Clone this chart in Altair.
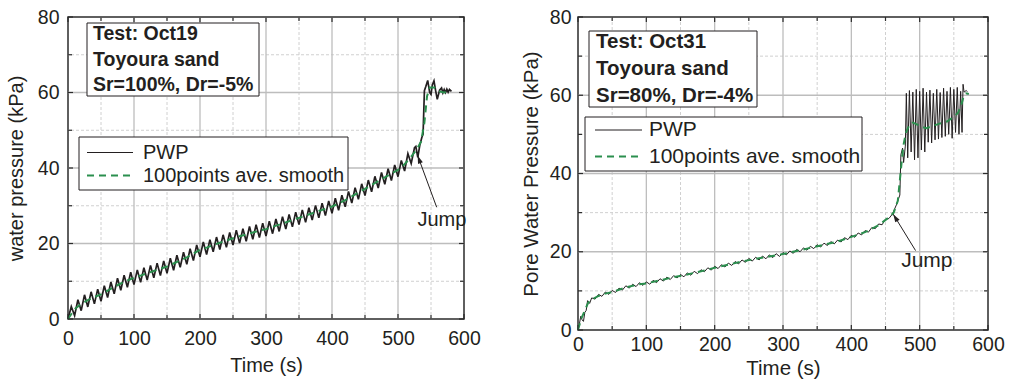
import altair as alt
import pandas as pd

INK = "#231f20"
FRAME = "#2b2b2b"
GREEN = "#2b8f4e"
FONT = "Liberation Sans"
SERIES = ["PWP", "100points ave. smooth"]

# ---------------- Test Oct19 : Sr=100%, Dr=-5% ----------------
oct19_pwp_t = [0, 5, 10, 15, 20, 25, 30, 35, 40, 45, 50, 55, 60, 65, 70, 75, 80, 85, 90, 95,
               100, 105, 110, 115, 120, 125, 130, 135, 140, 145, 150, 155, 160, 165, 170, 175,
               180, 185, 190, 195, 200, 205, 210, 215, 220, 225, 230, 235, 240, 245, 250, 255,
               260, 265, 270, 275, 280, 285, 290, 295, 300, 305, 310, 315, 320, 325, 330, 335,
               340, 345, 350, 355, 360, 365, 370, 375, 380, 385, 390, 395, 400, 405, 410, 415,
               420, 425, 430, 435, 440, 445, 450, 455, 460, 465, 470, 475, 480, 485, 490, 495,
               500, 505, 510, 515, 520, 525, 527, 530, 533, 536, 538, 540, 542, 545, 548, 550,
               552, 554.5, 557, 559.5, 563, 566, 568, 570, 572, 574, 576, 578, 581]
oct19_pwp_p = [0.0, 3.3, 0.9, 5.1, 2.2, 6.4, 3.2, 7.2, 4.0, 7.9, 4.7, 8.8, 5.7, 9.8, 6.7, 10.8,
               7.6, 11.6, 8.4, 12.4, 9.1, 13.0, 9.7, 13.6, 10.3, 14.2, 10.9, 14.8, 11.5, 15.4,
               12.1, 16.1, 12.9, 16.9, 13.7, 17.7, 14.5, 18.6, 15.5, 19.6, 16.5, 20.4, 17.1,
               21.0, 17.8, 21.7, 18.4, 22.3, 19.0, 22.9, 19.6, 23.5, 20.1, 23.9, 20.6, 24.5,
               21.1, 25.0, 21.6, 25.4, 22.0, 25.9, 22.6, 26.5, 23.2, 27.1, 23.8, 27.7, 24.4,
               28.3, 25.0, 28.9, 25.6, 29.5, 26.2, 30.1, 26.8, 30.7, 27.4, 31.3, 28.0, 32.0,
               28.8, 32.8, 29.7, 33.8, 30.7, 34.8, 31.7, 35.8, 32.7, 36.8, 33.7, 37.8, 34.7,
               38.8, 35.7, 39.8, 36.7, 40.8, 37.7, 42.0, 39.2, 43.8, 41.2, 45.4, 45.7, 42.8,
               46.0, 48.0, 49.0, 60.5, 61.5, 63.2, 60.0, 59.5, 62.0, 63.1, 60.5, 58.2, 60.6,
               61.2, 59.9, 60.8, 60.0, 60.9, 60.1, 60.8, 60.3]
oct19_smooth_t = [0, 10, 20, 30, 40, 50, 60, 70, 80, 90, 100, 110, 120, 130, 140, 150, 160,
                  170, 180, 190, 200, 210, 220, 230, 240, 250, 260, 270, 280, 290, 300, 310,
                  320, 330, 340, 350, 360, 370, 380, 390, 400, 410, 420, 430, 440, 450, 460,
                  470, 480, 490, 500, 510, 520, 528, 535, 540, 544, 548, 555, 562, 570, 580]
oct19_smooth_p = [0.0, 2.6, 4.0, 5.0, 5.8, 6.5, 7.5, 8.5, 9.4, 10.2, 10.9, 11.5, 12.1, 12.7,
                  13.3, 13.9, 14.7, 15.5, 16.3, 17.3, 18.3, 18.9, 19.6, 20.2, 20.8, 21.4, 21.9,
                  22.4, 22.9, 23.4, 23.8, 24.4, 25.0, 25.6, 26.2, 26.8, 27.4, 28.0, 28.6, 29.2,
                  29.8, 30.6, 31.5, 32.5, 33.5, 34.5, 35.5, 36.5, 37.5, 38.5, 39.5, 41.0, 43.0,
                  44.8, 47.0, 52.0, 59.0, 61.3, 61.3, 60.3, 60.0, 60.2]

# ---------------- Test Oct31 : Sr=80%, Dr=-4% ----------------
oct31_pwp_t = [0, 2, 4, 6, 8, 10, 12, 14, 17, 20, 25, 30, 35, 40, 45, 50, 55, 60, 65, 70, 75,
               80, 85, 90, 95, 100, 105, 110, 115, 120, 125, 130, 135, 140, 145, 150, 155, 160,
               165, 170, 175, 180, 185, 190, 195, 200, 205, 210, 215, 220, 225, 230, 235, 240,
               245, 250, 255, 260, 265, 270, 275, 280, 285, 290, 295, 300, 305, 310, 315, 320,
               325, 330, 335, 340, 345, 350, 355, 360, 365, 370, 375, 380, 385, 390, 395, 400,
               405, 410, 415, 420, 425, 430, 435, 440, 445, 450, 455, 460, 463, 466, 469, 471,
               472.5, 475, 476.5, 479, 480.5, 482.5, 485, 487.5, 490, 492.5, 495, 497.5, 500,
               502.5, 505, 507.5, 510, 512.5, 515, 517.5, 520, 522.5, 525, 527.5, 530, 532.5,
               535, 537.5, 540, 542.5, 545, 547.5, 550, 552.5, 555, 557.5, 560, 562, 563.5, 565,
               568, 570]
oct31_pwp_p = [0.0, 1.5, 3.5, 2.6, 2.2, 4.5, 5.0, 7.5, 6.8, 8.2, 7.9, 9.1, 8.6, 9.7, 9.1, 10.1,
               9.6, 10.7, 10.2, 11.3, 10.7, 11.7, 11.1, 12.1, 11.4, 12.3, 11.7, 12.7, 12.1,
               13.1, 12.5, 13.5, 12.9, 13.9, 13.3, 14.2, 13.6, 14.6, 14.0, 15.0, 14.4, 15.4,
               14.9, 15.9, 15.3, 16.3, 15.7, 16.7, 16.1, 17.1, 16.5, 17.5, 16.9, 17.9, 17.3,
               18.3, 17.6, 18.6, 17.9, 18.9, 18.2, 19.2, 18.5, 19.5, 18.8, 19.8, 19.2, 20.2,
               19.6, 20.6, 20.0, 21.0, 20.4, 21.4, 20.8, 21.8, 21.2, 22.2, 21.6, 22.6, 22.0,
               23.0, 22.5, 23.6, 23.1, 24.2, 23.7, 24.8, 24.3, 25.4, 25.0, 26.2, 25.9, 27.1,
               26.9, 28.3, 28.5, 29.6, 30.8, 32.0, 33.5, 34.5, 44.8, 46.5, 42.8, 47.0, 60.5,
               44.0, 61.2, 45.5, 60.8, 43.5, 61.5, 44.0, 61.0, 46.0, 61.8, 45.5, 60.8, 48.0,
               61.3, 47.8, 60.5, 48.6, 61.5, 48.8, 60.7, 49.2, 61.8, 49.5, 61.0, 50.0, 62.0,
               49.0, 61.5, 50.5, 62.0, 50.0, 61.0, 50.5, 62.8, 60.8, 61.2, 60.9]
oct31_smooth_t = [0, 5, 10, 15, 20, 30, 40, 50, 60, 70, 80, 90, 100, 120, 140, 160, 180, 200,
                  220, 240, 260, 280, 300, 320, 340, 360, 380, 400, 420, 440, 455, 462, 468,
                  472, 476, 480, 485, 490, 495, 500, 505, 510, 520, 530, 540, 550, 556, 560,
                  564, 568, 572]
oct31_smooth_p = [0.0, 3.0, 5.0, 7.0, 7.8, 8.7, 9.3, 9.7, 10.3, 10.9, 11.3, 11.7, 11.9, 12.7,
                  13.5, 14.2, 15.0, 15.9, 16.7, 17.5, 18.2, 18.8, 19.4, 20.2, 21.0, 21.8, 22.6,
                  23.8, 25.0, 26.8, 28.8, 30.0, 33.0, 40.0, 47.0, 50.5, 52.4, 53.0, 52.6, 52.2,
                  51.8, 51.6, 52.2, 52.8, 53.3, 54.5, 55.5, 57.0, 59.5, 60.5, 60.3]

# axis tick values
x_major = [0, 100, 200, 300, 400, 500, 600]
x_minor = [50, 150, 250, 350, 450, 550]
y_major = [0, 20, 40, 60, 80]
y_minor = [10, 30, 50, 70]

ONE = pd.DataFrame({"k": [0]})


def build_panel(pwp_t, pwp_p, sm_t, sm_p, cfg):
    w, h = cfg["width"], cfg["height"]
    xs = alt.Scale(domain=[0, 600], nice=False, zero=False)
    ys = alt.Scale(domain=[0, 80], nice=False, zero=False)
    x_axis = alt.Axis(values=x_major, grid=False, ticks=False, domain=False,
                      labelFont=FONT, labelFontSize=cfg["label_size"], labelColor=INK,
                      labelPadding=cfg["x_label_pad"], titleFont=FONT,
                      titleFontSize=cfg["title_size"], titleFontWeight="normal",
                      titleColor=INK, titlePadding=cfg["x_title_pad"], labelFlush=False)
    y_axis = alt.Axis(values=y_major, grid=False, ticks=False, domain=False,
                      labelFont=FONT, labelFontSize=cfg["label_size"], labelColor=INK,
                      labelPadding=cfg["y_label_pad"], titleFont=FONT,
                      titleFontSize=cfg["title_size"], titleFontWeight="normal",
                      titleColor=INK, titlePadding=cfg["y_title_pad"], labelFlush=False)
    X = alt.X("t:Q", scale=xs, axis=x_axis, title="Time (s)")
    Y = alt.Y("p:Q", scale=ys, axis=y_axis, title=cfg["y_title"])

    xg_major = pd.DataFrame({"t": x_major[1:-1]})
    xg_minor = pd.DataFrame({"t": x_minor})
    yg_major = pd.DataFrame({"p": y_major[1:-1]})
    yg_minor = pd.DataFrame({"p": y_minor})
    xt_major = pd.DataFrame({"t": x_major})
    yt_major = pd.DataFrame({"p": y_major})

    grid_minor = (
        alt.Chart(xg_minor).mark_rule(color="#d0d0d0", strokeWidth=1, strokeDash=[3, 2]).encode(x=X)
        + alt.Chart(yg_minor).mark_rule(color="#d0d0d0", strokeWidth=1, strokeDash=[3, 2]).encode(y=Y)
    )
    grid_major = (
        alt.Chart(xg_major).mark_rule(color="#bdbdbd", strokeWidth=1.3).encode(x=X)
        + alt.Chart(yg_major).mark_rule(color="#bdbdbd", strokeWidth=1.3).encode(y=Y)
    )

    # inward ticks on all four sides
    def xticks(df, length):
        return (alt.Chart(df).mark_rule(color=FRAME, strokeWidth=1.2)
                .encode(x=X, y=alt.value(h), y2=alt.value(h - length))
                + alt.Chart(df).mark_rule(color=FRAME, strokeWidth=1.2)
                .encode(x=X, y=alt.value(0), y2=alt.value(length)))

    def yticks(df, length):
        return (alt.Chart(df).mark_rule(color=FRAME, strokeWidth=1.2)
                .encode(y=Y, x=alt.value(0), x2=alt.value(length))
                + alt.Chart(df).mark_rule(color=FRAME, strokeWidth=1.2)
                .encode(y=Y, x=alt.value(w), x2=alt.value(w - length)))

    ticks = (xticks(xt_major, 5) + xticks(xg_minor, 4)
             + yticks(yt_major, 5) + yticks(yg_minor, 4))

    pwp = pd.DataFrame({"t": pwp_t, "p": pwp_p})
    pwp["i"] = range(len(pwp))
    smooth = pd.DataFrame({"t": sm_t, "p": sm_p})
    smooth["i"] = range(len(smooth))

    pwp_line = alt.Chart(pwp).mark_line(
        color=INK, strokeWidth=cfg["pwp_width"], strokeJoin="miter").encode(
        x=X, y=Y, order="i:Q")
    smooth_line = alt.Chart(smooth).mark_line(
        color=GREEN, strokeWidth=2, strokeDash=[7, 5]).encode(x=X, y=Y, order="i:Q")

    # legend box with line samples
    lx0, ly0, lx1, ly1 = cfg["legend_box"]
    sx0, sx1 = cfg["legend_sample"]
    row1, row2 = cfg["legend_rows"]
    legend_box = alt.Chart(ONE).mark_rect(fill="white", stroke=INK, strokeWidth=1).encode(
        x=alt.value(lx0), x2=alt.value(lx1), y=alt.value(ly0), y2=alt.value(ly1))
    sample_pwp = alt.Chart(ONE).mark_rule(color=INK, strokeWidth=1).encode(
        x=alt.value(sx0), x2=alt.value(sx1), y=alt.value(row1))
    sample_smooth = alt.Chart(ONE).mark_rule(color=GREEN, strokeWidth=2, strokeDash=[7, 5]).encode(
        x=alt.value(sx0), x2=alt.value(sx1), y=alt.value(row2))
    label_style = dict(align="left", baseline="middle", font=FONT,
                       fontSize=cfg["legend_font"], color=INK)
    label_pwp = alt.Chart(ONE).mark_text(**label_style).encode(
        x=alt.value(cfg["legend_text_x"]), y=alt.value(row1), text=alt.value(SERIES[0]))
    label_smooth = alt.Chart(ONE).mark_text(**label_style).encode(
        x=alt.value(cfg["legend_text_x"]), y=alt.value(row2), text=alt.value(SERIES[1]))

    bx0, by0, bx1, by1 = cfg["info_box"]
    info_box = alt.Chart(ONE).mark_rect(fill="white", stroke=INK, strokeWidth=1).encode(
        x=alt.value(bx0), x2=alt.value(bx1), y=alt.value(by0), y2=alt.value(by1))
    info_text = alt.Chart(ONE).mark_text(
        align="left", baseline="top", lineBreak="\n", lineHeight=cfg["info_line"],
        font=FONT, fontSize=cfg["info_size"], fontWeight="bold", color=INK).encode(
        x=alt.value(cfg["info_xy"][0]), y=alt.value(cfg["info_xy"][1]),
        text=alt.value(cfg["info_text"]))

    arrow = pd.DataFrame({"t": [cfg["jump_tail"][0], cfg["jump_head"][0]],
                          "p": [cfg["jump_tail"][1], cfg["jump_head"][1]], "i": [0, 1]})
    arrow_line = alt.Chart(arrow).mark_line(color=INK, strokeWidth=1).encode(
        x=X, y=Y, order="i:Q")
    head = pd.DataFrame({"t": [cfg["jump_head"][0]], "p": [cfg["jump_head"][1]]})
    arrow_head = alt.Chart(head).mark_point(
        shape="M0,0 L-0.32,1 L0.32,1 Z", filled=True, size=256, opacity=1,
        color=INK, angle=cfg["arrow_angle"]).encode(x=X, y=Y)
    jump = pd.DataFrame({"t": [cfg["jump_text"][0]], "p": [cfg["jump_text"][1]],
                         "label": ["Jump"]})
    jump_text = alt.Chart(jump).mark_text(
        font=FONT, fontSize=cfg["legend_font"], color=INK, align="center",
        baseline="middle").encode(x=X, y=Y, text="label:N")

    return alt.layer(
        grid_minor, grid_major, pwp_line, smooth_line, ticks,
        legend_box, sample_pwp, sample_smooth, label_pwp, label_smooth,
        info_box, info_text, arrow_line, arrow_head, jump_text
    ).properties(width=w, height=h)


left_cfg = dict(
    width=396, height=302, y_title="water pressure (kPa)", pwp_width=1.7,
    label_size=19.5, title_size=20, x_label_pad=10, x_title_pad=8,
    y_label_pad=9, y_title_pad=11,
    legend_box=(11, 120, 280, 173), legend_sample=(19, 65), legend_rows=(135.5, 158.5),
    legend_text_x=75, legend_font=20,
    info_box=(19, 6, 191, 79), info_xy=(25, 8), info_size=19.5, info_line=25.5,
    info_text="Test: Oct19\nToyoura sand\nSr=100%, Dr=-5%",
    jump_tail=(558.6, 29.6), jump_head=(529.8, 43.3), jump_text=(566.5, 26.3),
    arrow_angle=339.8,
)
right_cfg = dict(
    width=410, height=313, y_title="Pore Water Pressure (kPa)", pwp_width=1,
    label_size=19.5, title_size=20.5, x_label_pad=5, x_title_pad=5,
    y_label_pad=7, y_title_pad=8,
    legend_box=(7, 100, 284, 154), legend_sample=(17, 64), legend_rows=(113, 139.5),
    legend_text_x=71, legend_font=21,
    info_box=(11, 14, 179, 90), info_xy=(18, 15), info_size=20.5, info_line=27,
    info_text="Test: Oct31\nToyoura sand\nSr=80%, Dr=-4%",
    jump_tail=(494.0, 20.3), jump_head=(461.3, 29.6), jump_text=(510.5, 17.6),
    arrow_angle=328.4,
)

left = build_panel(oct19_pwp_t, oct19_pwp_p, oct19_smooth_t, oct19_smooth_p, left_cfg)
right = build_panel(oct31_pwp_t, oct31_pwp_p, oct31_smooth_t, oct31_smooth_p, right_cfg)

chart = (
    alt.hconcat(left, right, spacing=38)
    .resolve_scale(x="independent", y="independent")
    .properties(padding={"left": 5, "top": 6, "right": 0, "bottom": 0}, background="white")
    .configure_view(stroke=FRAME, strokeWidth=1.5)
)

chart.save("out.html", embed_options={"renderer": "svg", "actions": False})
